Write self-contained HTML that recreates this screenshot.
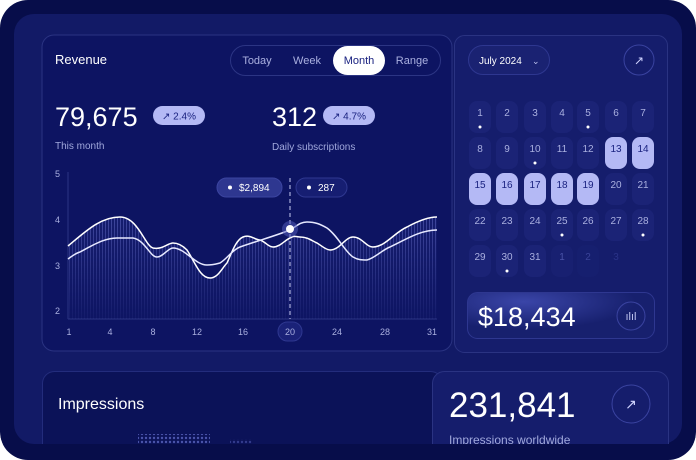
<!DOCTYPE html>
<html><head><meta charset="utf-8"><style>
html,body{margin:0;padding:0;background:#fff;}
svg{display:block;font-family:"Liberation Sans",sans-serif;}
</style></head><body>
<svg width="696" height="460" viewBox="0 0 696 460" xmlns="http://www.w3.org/2000/svg">
<defs>
<pattern id="hatch" width="3" height="10" patternUnits="userSpaceOnUse">
<rect width="3" height="10" fill="#182072"/>
<rect width="1" height="10" fill="#5058b0"/>
</pattern>
<pattern id="dots" width="4" height="4" patternUnits="userSpaceOnUse">
<circle cx="2" cy="2" r="1.2" fill="#5a64c0"/>
</pattern>
<linearGradient id="fade" x1="0" y1="0" x2="0" y2="1">
<stop offset="0" stop-color="#fff" stop-opacity="0.85"/>
<stop offset="1" stop-color="#fff" stop-opacity="0.1"/>
</linearGradient>
<mask id="m"><rect x="0" y="200" width="696" height="120" fill="url(#fade)"/></mask>
<radialGradient id="glow" cx="0.3" cy="0.2" r="0.6"><stop offset="0" stop-color="#3a45a8"/><stop offset="1" stop-color="#17206e"/></radialGradient>
</defs>
<rect x="0" y="0" width="696" height="460" rx="28" fill="#070d4a"/>
<rect x="14" y="14" width="668" height="430" rx="20" fill="#121a66"/>
<!-- Revenue card -->
<rect x="42" y="35" width="410" height="316" rx="12" fill="#0d1462" stroke="#2a3382" stroke-width="1"/>
<text x="55" y="64" fill="#fff" font-size="13">Revenue</text>
<rect x="230.5" y="45.5" width="210" height="30" rx="15" fill="none" stroke="#2c3584"/>
<rect x="333" y="46" width="52" height="29" rx="14.5" fill="#fff"/>
<g font-size="11" text-anchor="middle" fill="#aab0e0"><text x="257" y="64">Today</text><text x="307" y="64">Week</text><text x="359" y="64" fill="#1a2280">Month</text><text x="412" y="64">Range</text></g>
<text x="55" y="126" fill="#fff" font-size="27">79,675</text>
<rect x="153" y="106" width="52" height="19" rx="9.5" fill="#b4b9f5"/>
<text x="179" y="119.5" fill="#1a2280" font-size="10" text-anchor="middle">↗ 2.4%</text>
<text x="55" y="149" fill="#a0a8dc" font-size="10">This month</text>
<text x="272" y="126" fill="#fff" font-size="27">312</text>
<rect x="323" y="106" width="52" height="19" rx="9.5" fill="#b4b9f5"/>
<text x="349" y="119.5" fill="#1a2280" font-size="10" text-anchor="middle">↗ 4.7%</text>
<text x="272" y="150" fill="#a0a8dc" font-size="10">Daily subscriptions</text>
<g font-size="9" fill="#aab0e0"><text x="55" y="177">5</text><text x="55" y="223">4</text><text x="55" y="269">3</text><text x="55" y="314">2</text></g>
<line x1="68" y1="172" x2="68" y2="319" stroke="#2c3584"/>
<line x1="68" y1="319" x2="437" y2="319" stroke="#2c3584"/>
<path mask="url(#m)" fill="url(#hatch)" d="M68,246 C85,232 100,217 120,217 C138,217 145,246 153,248 C162,250 168,243 173,243 C180,243 185,248 187,250 C195,262 200,278 210,278 C218,278 222,268 227,263 C232,252 236,240 243,237 C250,234 255,240 260,240 C266,242 268,247 273,247 C280,247 285,240 290,238 C295,235 296,237 300,237 C308,237 312,241 317,243 C322,246 326,250 330,250 C340,250 345,237 353,237 C362,237 366,247 373,247 C385,247 395,232 407,227 C418,221 428,217 437,217 L437,319 L68,319 Z"/>
<path fill="none" stroke="#fff" stroke-width="1.5" d="M68,246 C85,232 100,217 120,217 C138,217 145,246 153,248 C162,250 168,243 173,243 C180,243 185,248 187,250 C195,262 200,278 210,278 C218,278 222,268 227,263 C232,252 236,240 243,237 C250,234 255,240 260,240 C266,242 268,247 273,247 C280,247 285,240 290,238 C295,235 296,237 300,237 C308,237 312,241 317,243 C322,246 326,250 330,250 C340,250 345,237 353,237 C362,237 366,247 373,247 C385,247 395,232 407,227 C418,221 428,217 437,217"/>
<path fill="none" stroke="#e6e8ff" stroke-width="1.5" d="M68,259 C72,256 76,253 80,252 C95,244 105,238 117,238 C125,238 128,238 133,238 C145,240 150,257 157,257 C163,257 168,248 173,248 C185,248 195,265 207,265 C213,265 216,264 220,263 C228,258 232,250 240,247 C260,240 275,236 290,230 C297,226 300,222 307,222 C315,222 320,224 327,228 C338,236 345,252 353,257 C358,260 362,260 367,260 C375,258 382,250 390,247 C405,240 420,230 437,230"/>
<line x1="290" y1="178" x2="290" y2="319" stroke="#c8ccf2" stroke-dasharray="4,3"/>
<circle cx="290" cy="229" r="8" fill="#5860c0" opacity="0.5"/>
<circle cx="290" cy="229" r="4" fill="#fff"/>
<rect x="217" y="178" width="65" height="19" rx="9.5" fill="#2e3790" stroke="#3b44a0"/>
<circle cx="230" cy="187.5" r="2" fill="#fff"/><text x="239" y="191" fill="#fff" font-size="10">$2,894</text>
<rect x="296" y="178" width="51" height="19" rx="9.5" fill="#161e72" stroke="#2e3790"/>
<circle cx="309" cy="187.5" r="2" fill="#fff"/><text x="318" y="191" fill="#fff" font-size="10">287</text>
<rect x="278" y="322" width="24" height="19" rx="9.5" fill="#1a2278" stroke="#2e3790"/>
<g font-size="9" fill="#aab0e0" text-anchor="middle"><text x="69" y="335">1</text><text x="110" y="335">4</text><text x="153" y="335">8</text><text x="197" y="335">12</text><text x="243" y="335">16</text><text x="290" y="335">20</text><text x="337" y="335">24</text><text x="385" y="335">28</text><text x="432" y="335">31</text></g>
<!-- calendar card -->
<rect x="454.5" y="35.5" width="213" height="317" rx="10" fill="#151d6c" stroke="#2a3382"/>
<rect x="468.5" y="45.5" width="81" height="29" rx="14.5" fill="#1a2272" stroke="#2e3790"/>
<text x="479" y="64" fill="#fff" font-size="10">July 2024</text><text x="532" y="64" fill="#c0c5f0" font-size="9">⌄</text>
<circle cx="639" cy="60" r="15" fill="none" stroke="#3a43a0"/>
<text x="639" y="64.5" fill="#d0d4ff" font-size="12" text-anchor="middle">↗</text>
<g font-size="10" text-anchor="middle">
<g fill="#1b2376">
<rect x="469" y="101" width="22" height="32" rx="8"/><rect x="496" y="101" width="22" height="32" rx="8"/><rect x="524" y="101" width="22" height="32" rx="8"/><rect x="551" y="101" width="22" height="32" rx="8"/><rect x="577" y="101" width="22" height="32" rx="8"/><rect x="605" y="101" width="22" height="32" rx="8"/><rect x="632" y="101" width="22" height="32" rx="8"/>
<rect x="469" y="137" width="22" height="32" rx="8"/><rect x="496" y="137" width="22" height="32" rx="8"/><rect x="524" y="137" width="22" height="32" rx="8"/><rect x="551" y="137" width="22" height="32" rx="8"/><rect x="577" y="137" width="22" height="32" rx="8"/>
<rect x="605" y="173" width="22" height="32" rx="8"/><rect x="632" y="173" width="22" height="32" rx="8"/>
<rect x="469" y="209" width="22" height="32" rx="8"/><rect x="496" y="209" width="22" height="32" rx="8"/><rect x="524" y="209" width="22" height="32" rx="8"/><rect x="551" y="209" width="22" height="32" rx="8"/><rect x="577" y="209" width="22" height="32" rx="8"/><rect x="605" y="209" width="22" height="32" rx="8"/><rect x="632" y="209" width="22" height="32" rx="8"/>
<rect x="469" y="245" width="22" height="32" rx="8"/><rect x="496" y="245" width="22" height="32" rx="8"/><rect x="524" y="245" width="22" height="32" rx="8"/><rect x="551" y="245" width="22" height="32" rx="8" opacity="0.5"/><rect x="577" y="245" width="22" height="32" rx="8" opacity="0.3"/>
</g>
<g fill="#b4b9f5">
<rect x="605" y="137" width="22" height="32" rx="8"/><rect x="632" y="137" width="22" height="32" rx="8"/>
<rect x="469" y="173" width="22" height="32" rx="8"/><rect x="496" y="173" width="22" height="32" rx="8"/><rect x="524" y="173" width="22" height="32" rx="8"/><rect x="551" y="173" width="22" height="32" rx="8"/><rect x="577" y="173" width="22" height="32" rx="8"/>
</g>
<g fill="#aab0e0">
<text x="480" y="116">1</text><text x="507" y="116">2</text><text x="535" y="116">3</text><text x="562" y="116">4</text><text x="588" y="116">5</text><text x="616" y="116">6</text><text x="643" y="116">7</text>
<text x="480" y="152">8</text><text x="507" y="152">9</text><text x="535" y="152">10</text><text x="562" y="152">11</text><text x="588" y="152">12</text>
<text x="616" y="188">20</text><text x="643" y="188">21</text>
<text x="480" y="224">22</text><text x="507" y="224">23</text><text x="535" y="224">24</text><text x="562" y="224">25</text><text x="588" y="224">26</text><text x="616" y="224">27</text><text x="643" y="224">28</text>
<text x="480" y="260">29</text><text x="507" y="260">30</text><text x="535" y="260">31</text>
<text x="562" y="260" fill="#4a53a8">1</text><text x="588" y="260" fill="#3a4398">2</text><text x="616" y="260" fill="#2a3388">3</text>
</g>
<g fill="#1a2280">
<text x="616" y="152">13</text><text x="643" y="152">14</text>
<text x="480" y="188">15</text><text x="507" y="188">16</text><text x="535" y="188">17</text><text x="562" y="188">18</text><text x="588" y="188">19</text>
</g>
</g>
<g fill="#fff"><circle cx="480" cy="127" r="1.5"/><circle cx="588" cy="127" r="1.5"/><circle cx="535" cy="163" r="1.5"/><circle cx="562" cy="235" r="1.5"/><circle cx="643" cy="235" r="1.5"/><circle cx="507" cy="271" r="1.5"/></g>
<rect x="467.5" y="292.5" width="187" height="46" rx="10" fill="url(#glow)" stroke="#2e3790"/>
<text x="478" y="326" fill="#fff" font-size="27">$18,434</text>
<circle cx="631" cy="316" r="14" fill="none" stroke="#3a43a0"/>
<text x="631" y="320" fill="#c0c5f0" font-size="11" text-anchor="middle">ılıl</text>
<!-- bottom cards -->
<rect x="42.5" y="371.5" width="400" height="90" rx="12" fill="#0b1258" stroke="#232c7c"/>
<text x="58" y="409" fill="#fff" font-size="16">Impressions</text>
<rect x="138" y="434" width="72" height="10" fill="url(#dots)" opacity="0.8"/>
<rect x="230" y="439" width="22" height="5" fill="url(#dots)" opacity="0.5"/>
<rect x="432.5" y="371.5" width="236" height="90" rx="12" fill="#151d6c" stroke="#2a3382"/>
<text x="449" y="417" fill="#fff" font-size="35">231,841</text>
<text x="449" y="444" fill="#a0a8dc" font-size="12">Impressions worldwide</text>
<circle cx="631" cy="404" r="19" fill="none" stroke="#3a43a0"/>
<text x="631" y="409" fill="#d0d4ff" font-size="14" text-anchor="middle">↗</text>
<rect x="0" y="444" width="696" height="16" fill="#070d4a"/>
<path d="M0,432 L0,460 L28,460 A28,28 0 0 1 0,432 Z" fill="#fff"/>
<path d="M696,432 L696,460 L668,460 A28,28 0 0 0 696,432 Z" fill="#fff"/>
</svg>
</body></html>
